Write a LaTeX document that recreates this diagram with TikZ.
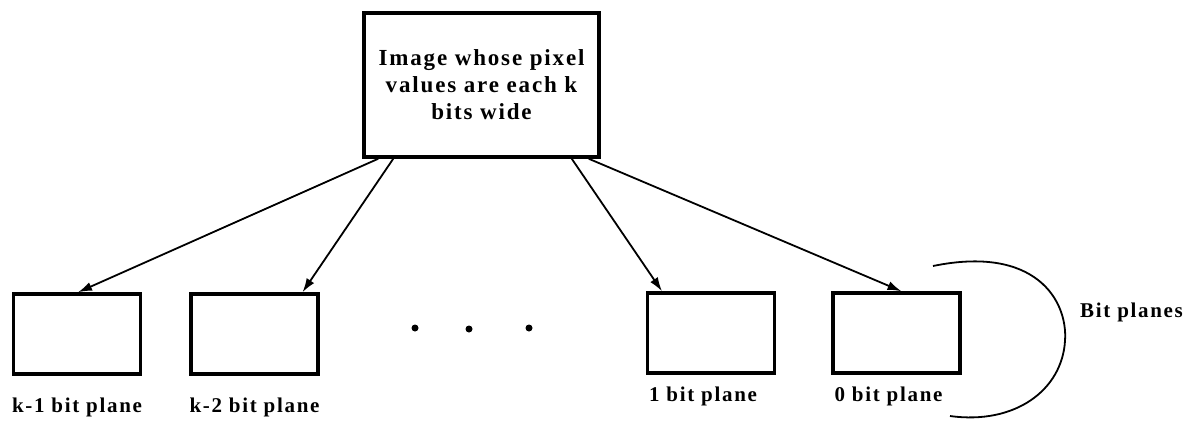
\documentclass[tikz,border=0pt]{standalone}
\usepackage{fontspec}
\setmainfont{Liberation Serif}[LetterSpace=8]
\usetikzlibrary{positioning}
\usetikzlibrary{arrows.meta}
\begin{document}
\begin{tikzpicture}[x=1pt,y=-1pt,->,
            >={Latex[length=14pt,width=9pt]},
            node distance = 47pt,
            bigbox/.style = {draw,line width=3.5pt,minimum width=235pt,
                minimum height=144pt,align=center,
                font=\fontsize{23}{27}\selectfont\bfseries},
            plane/.style = {draw,line width=3.5pt,minimum width=127pt,
                minimum height=80pt},
            planename/.style = {inner sep=0pt,
                font=\fontsize{21}{25}\selectfont\bfseries},
            dot/.style = {circle,fill,inner sep=0pt,minimum size=7pt},
            link/.style = {line width=1.8pt}]
            \useasboundingbox (0,0) rectangle (1191,424);
            \node[bigbox](image) at (481.5,85) {Image whose pixel\\values are each k\\bits wide};
            \node[plane](b1) at (77,334) {};
            \node[plane,right=of b1](b2) {};
            \node[plane](b3) at (711,333) {};
            \node[plane,right=55pt of b3](b0) {};
            \node[planename,below=22pt of b1](t1) {k-1 bit plane};
            \node[planename,below=22pt of b2](t2) {k-2 bit plane};
            \node[planename,below=12pt of b3,xshift=-8pt](t3) {1 bit plane};
            \node[planename,below=12pt of b0,xshift=-8pt](t0) {0 bit plane};
            \node[dot](d1) at (415,328) {};
            \node[dot](d2) at (469,329) {};
            \node[dot](d3) at (529,328) {};
            \draw[link] ([xshift=16pt]image.south west) -- ([xshift=1pt]b1.north);
            \draw[link] ([xshift=31pt]image.south west) -- ([xshift=48pt]b2.north);
            \draw[link] ([xshift=-29pt]image.south east) -- ([xshift=-49pt]b3.north);
            \draw[link] ([xshift=-12pt]image.south east) -- ([xshift=5pt]b0.north);
            \coordinate (arctop) at (933,266);
            \coordinate (arcbot) at (950,416);
            \draw[-,link] (arctop) .. controls (1035,245) and (1068,300) .. (1065,341)
                .. controls (1062,390) and (1015,425) .. (arcbot);
            \node[planename,anchor=west](bp) at (1080,312) {Bit planes};
        \end{tikzpicture}
\end{document}
